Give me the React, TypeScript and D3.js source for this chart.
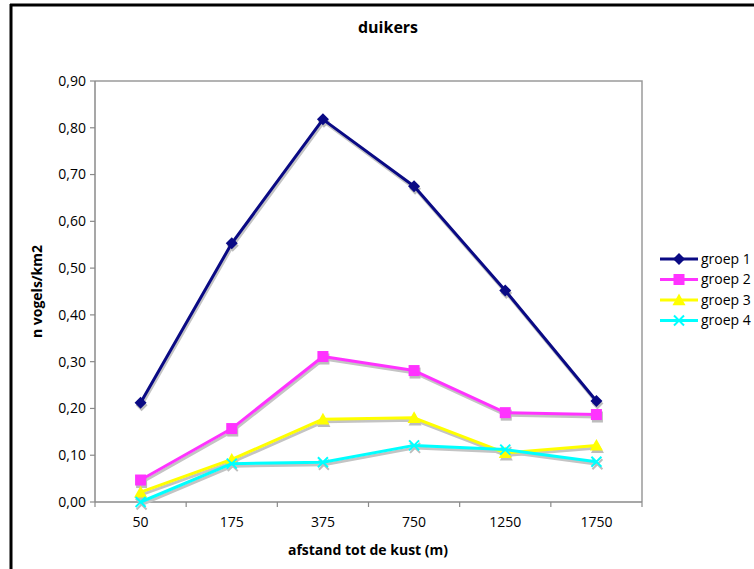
import React from "react";
import * as d3 from "d3";

const categories = ["50", "175", "375", "750", "1250", "1750"];
const seriesNames = ["groep 1", "groep 2", "groep 3", "groep 4"];
const groep1 = [0.212, 0.553, 0.818, 0.675, 0.452, 0.216];
const groep2 = [0.047, 0.157, 0.311, 0.281, 0.191, 0.187];
const groep3 = [0.021, 0.091, 0.177, 0.18, 0.105, 0.121];
const groep4 = [0.0, 0.082, 0.085, 0.121, 0.112, 0.086];
const yTicks = [0, 0.1, 0.2, 0.3, 0.4, 0.5, 0.6, 0.7, 0.8, 0.9];

const colors = ["#0a0a84", "#ff33ff", "#ffff00", "#00ffff"];
const markers = ["diamond", "square", "triangle", "x"];
const allSeries = [groep1, groep2, groep3, groep4];

const W = 754;
const H = 569;
const plot = { left: 95, right: 642, top: 81, bottom: 502 };
const FONT = "'Open Sans', 'DejaVu Sans', sans-serif";

function Marker({ type, x, y, color, shadow }: { type: string; x: number; y: number; color: string; shadow?: boolean }) {
  const c = shadow ? "#bdbdbd" : color;
  if (type === "diamond") {
    const s = 6;
    return <path d={`M${x},${y - s}L${x + s},${y}L${x},${y + s}L${x - s},${y}Z`} fill={c} />;
  }
  if (type === "square") {
    const s = 5.5;
    return <rect x={x - s} y={y - s} width={2 * s} height={2 * s} fill={c} />;
  }
  if (type === "triangle") {
    const s = 6.5;
    return <path d={`M${x},${y - s}L${x + s},${y + s * 0.8}L${x - s},${y + s * 0.8}Z`} fill={c} />;
  }
  const s = 5;
  return (
    <path d={`M${x - s},${y - s}L${x + s},${y + s}M${x - s},${y + s}L${x + s},${y - s}`} stroke={c} strokeWidth={2} fill="none" />
  );
}

export default function App() {
  const x = d3.scaleBand<string>().domain(categories).range([plot.left, plot.right]);
  const y = d3.scaleLinear().domain([0, 0.9]).range([plot.bottom, plot.top]);
  const cx = (c: string) => (x(c) as number) + x.bandwidth() / 2;
  const line = d3
    .line<number>()
    .x((_, i) => cx(categories[i]))
    .y((d) => y(d));
  const fmt = (v: number) => v.toFixed(2).replace(".", ",");
  const bounds = categories.map((c) => x(c) as number).concat([plot.right]);

  return (
    <svg width={W} height={H} style={{ position: "absolute", left: 0, top: 0, background: "#fff" }}>
      <rect x={0} y={0} width={W} height={H} fill="#fff" />
      {/* outer border */}
      <line x1={11} x2={11} y1={4} y2={H} stroke="#000" strokeWidth={3} />
      <line x1={10} x2={W} y1={5} y2={5} stroke="#000" strokeWidth={3} />

      <text x={388} y={33} textAnchor="middle" fontFamily={FONT} fontWeight="bold" fontSize={16} fill="#000">
        duikers
      </text>

      {/* plot area border */}
      <path
        d={`M${plot.left},${plot.top}H${plot.right}V${plot.bottom}`}
        fill="none"
        stroke="#9a9a9a"
        strokeWidth={1.5}
      />
      {/* y axis */}
      <line x1={plot.left} x2={plot.left} y1={plot.top} y2={plot.bottom} stroke="#8a8a8a" strokeWidth={1.5} />
      {yTicks.map((t) => (
        <g key={t}>
          <line x1={plot.left - 5} x2={plot.left} y1={y(t)} y2={y(t)} stroke="#8a8a8a" strokeWidth={1.2} />
          <text x={86} y={y(t)} dy="0.35em" textAnchor="end" fontFamily={FONT} fontSize={14} fill="#000">
            {fmt(t)}
          </text>
        </g>
      ))}
      {/* x axis */}
      <line x1={plot.left} x2={plot.right} y1={plot.bottom} y2={plot.bottom} stroke="#8a8a8a" strokeWidth={1.5} />
      {bounds.map((b, i) => (
        <line key={i} x1={b} x2={b} y1={plot.bottom} y2={plot.bottom + 5} stroke="#8a8a8a" strokeWidth={1.2} />
      ))}
      {categories.map((c) => (
        <text key={c} x={cx(c)} y={527} textAnchor="middle" fontFamily={FONT} fontSize={14} fill="#000">
          {c}
        </text>
      ))}

      <text x={368} y={555} textAnchor="middle" fontFamily={FONT} fontWeight="bold" fontSize={14} fill="#000">
        afstand tot de kust (m)
      </text>
      <text
        transform={`translate(42,${(plot.top + plot.bottom) / 2}) rotate(-90)`}
        textAnchor="middle"
        fontFamily={FONT}
        fontWeight="bold"
        fontSize={14}
        fill="#000"
      >
        n vogels/km2
      </text>

      {/* shadows */}
      {allSeries.map((s, si) => (
        <g key={"sh" + si} transform="translate(1,2.5)">
          <path d={line(s) || ""} fill="none" stroke="#c4c4c4" strokeWidth={3} />
          {s.map((v, i) => (
            <Marker key={i} type={markers[si]} x={cx(categories[i])} y={y(v)} color={colors[si]} shadow />
          ))}
        </g>
      ))}
      {/* series */}
      {allSeries.map((s, si) => (
        <g key={"s" + si}>
          <path d={line(s) || ""} fill="none" stroke={colors[si]} strokeWidth={3} strokeLinejoin="round" />
          {s.map((v, i) => (
            <Marker key={i} type={markers[si]} x={cx(categories[i])} y={y(v)} color={colors[si]} />
          ))}
        </g>
      ))}

      {/* legend */}
      {seriesNames.map((n, i) => {
        const ly = 259 + i * 20.5;
        return (
          <g key={n}>
            <line x1={660} x2={698} y1={ly} y2={ly} stroke={colors[i]} strokeWidth={3} />
            <Marker type={markers[i]} x={679} y={ly} color={colors[i]} />
            <text x={701} y={ly} dy="0.35em" fontFamily={FONT} fontSize={14} fill="#000">
              {n}
            </text>
          </g>
        );
      })}
    </svg>
  );
}
